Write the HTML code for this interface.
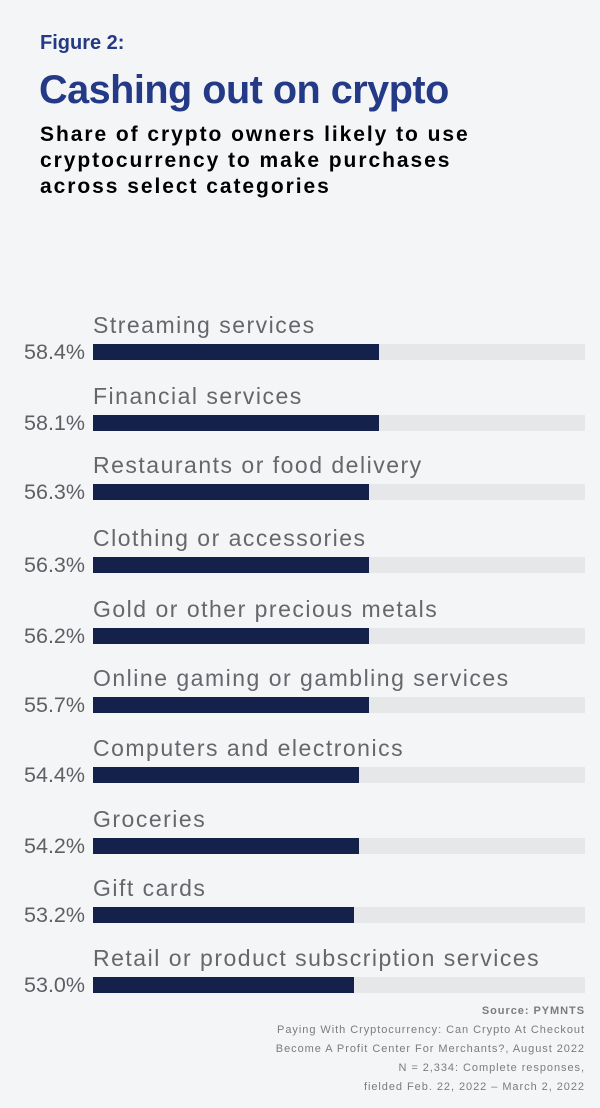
<!DOCTYPE html>
<html><head><meta charset="utf-8"><style>
body{margin:0;background:#f4f5f7;width:600px;height:1108px;position:relative;overflow:hidden;font-family:"Liberation Sans",sans-serif}
.a{position:absolute;white-space:nowrap}
.fig{left:40px;top:32px;font-size:20px;font-weight:bold;color:#253a86}
.title{left:39px;top:68px;font-size:40px;color:#253a86;transform:scaleX(0.99);transform-origin:left;letter-spacing:-0.5px;font-weight:bold}
.sub{left:40px;top:122px;font-size:21px;font-weight:bold;color:#000;line-height:26px;letter-spacing:1.95px}
.lab{left:93px;font-size:23px;color:#66676b;letter-spacing:1.5px;top:0}
.pct{right:515px;font-size:21.5px;color:#5f6064;text-align:right;letter-spacing:0px}
.trk{left:93px;width:492px;height:16px;background:#e6e7e9}
.bar{left:93px;height:16px;background:#14214b}
.ft{right:15px;text-align:right;font-size:11px;color:#7b7c80;line-height:19px;letter-spacing:0.95px}
</style></head><body>
<div class="a fig">Figure 2:</div>
<div class="a title">Cashing out on crypto</div>
<div class="a sub">Share of crypto owners likely to use<br>cryptocurrency to make purchases<br>across select categories</div>

<div class="a lab" style="top:312px">Streaming services</div><div class="a trk" style="top:344px"></div><div class="a bar" style="top:344px;width:286px"></div><div class="a pct" style="top:340px">58.4%</div>
<div class="a lab" style="top:383px">Financial services</div><div class="a trk" style="top:415px"></div><div class="a bar" style="top:415px;width:286px"></div><div class="a pct" style="top:411px">58.1%</div>
<div class="a lab" style="top:452px">Restaurants or food delivery</div><div class="a trk" style="top:484px"></div><div class="a bar" style="top:484px;width:276px"></div><div class="a pct" style="top:480px">56.3%</div>
<div class="a lab" style="top:525px">Clothing or accessories</div><div class="a trk" style="top:557px"></div><div class="a bar" style="top:557px;width:276px"></div><div class="a pct" style="top:553px">56.3%</div>
<div class="a lab" style="top:596px">Gold or other precious metals</div><div class="a trk" style="top:628px"></div><div class="a bar" style="top:628px;width:276px"></div><div class="a pct" style="top:624px">56.2%</div>
<div class="a lab" style="top:665px">Online gaming or gambling services</div><div class="a trk" style="top:697px"></div><div class="a bar" style="top:697px;width:276px"></div><div class="a pct" style="top:693px">55.7%</div>
<div class="a lab" style="top:735px">Computers and electronics</div><div class="a trk" style="top:767px"></div><div class="a bar" style="top:767px;width:266px"></div><div class="a pct" style="top:763px">54.4%</div>
<div class="a lab" style="top:806px">Groceries</div><div class="a trk" style="top:838px"></div><div class="a bar" style="top:838px;width:266px"></div><div class="a pct" style="top:834px">54.2%</div>
<div class="a lab" style="top:875px">Gift cards</div><div class="a trk" style="top:907px"></div><div class="a bar" style="top:907px;width:261px"></div><div class="a pct" style="top:903px">53.2%</div>
<div class="a lab" style="top:945px">Retail or product subscription services</div><div class="a trk" style="top:977px"></div><div class="a bar" style="top:977px;width:261px"></div><div class="a pct" style="top:973px">53.0%</div>

<div class="a ft" style="top:1002px"><b>Source: PYMNTS</b><br>Paying With Cryptocurrency: Can Crypto At Checkout<br>Become A Profit Center For Merchants?, August 2022<br>N = 2,334: Complete responses,<br>fielded Feb. 22, 2022 – March 2, 2022</div>
</body></html>
